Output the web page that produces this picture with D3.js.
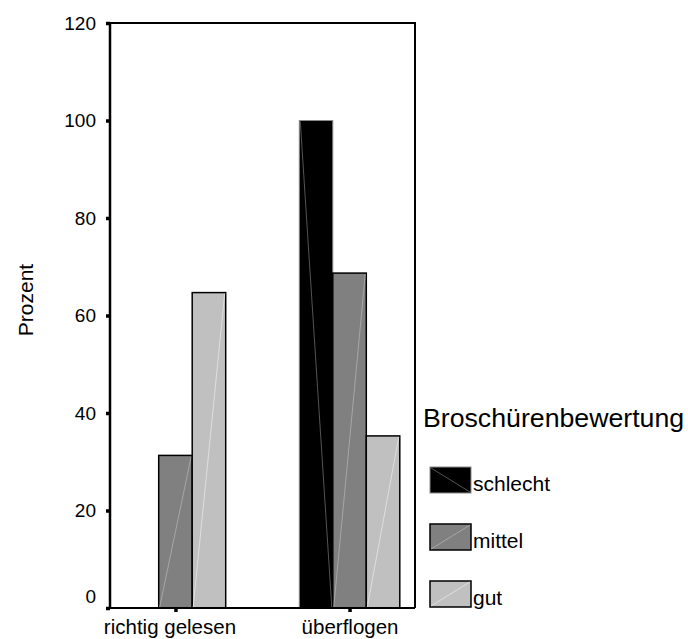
<!DOCTYPE html>
<html>
<head>
<meta charset="utf-8">
<script src="https://cdn.jsdelivr.net/npm/d3@7"></script>
<style>
  html, body { margin: 0; padding: 0; background: #fff; }
  svg { display: block; font-family: Arial, "Liberation Sans", sans-serif; }
</style>
</head>
<body>
<svg id="chart" width="688" height="639"></svg>
<script>
const categories = ["richtig gelesen", "überflogen"];
const series = ["schlecht", "mittel", "gut"];
const schlechtValues = [0, 100];
const mittelValues = [31.3, 68.7];
const gutValues = [64.7, 35.3];
const yTicks = [0, 20, 40, 60, 80, 100, 120];
const seriesValues = { schlecht: schlechtValues, mittel: mittelValues, gut: gutValues };

const colors = { schlecht: "#000000", mittel: "#808080", gut: "#c0c0c0" };
const strokes = { schlecht: "#8a8a8a", mittel: "#000000", gut: "#000000" };
const diag = { schlecht: "#6a6a6a", mittel: "#b0b0b0", gut: "#e6e6e6" };

const svg = d3.select("#chart");
const pLeft = 110, pRight = 415, pTop = 23, pBottom = 608;

const y = d3.scaleLinear().domain([0, 120]).range([pBottom, pTop]);
const x0 = d3.scalePoint().domain(categories).range([pLeft, pRight]).padding(0.376);
const groupW = 100.5;
const x1 = d3.scaleBand().domain(series).range([-groupW / 2, groupW / 2]).padding(0);

// frame (top and right)
svg.append("path")
  .attr("d", `M${pLeft},${pTop}H${pRight}V${pBottom}`)
  .attr("fill", "none").attr("stroke", "#000").attr("stroke-width", 2);

// bars
const data = [];
categories.forEach((c, i) => series.forEach(s => data.push({ c, s, v: seriesValues[s][i] })));
const bars = svg.append("g").selectAll("g").data(data.filter(d => d.v > 0)).join("g");
bars.append("rect")
  .attr("x", d => x0(d.c) + x1(d.s))
  .attr("y", d => y(d.v))
  .attr("width", x1.bandwidth())
  .attr("height", d => y(0) - y(d.v))
  .attr("fill", d => colors[d.s])
  .attr("stroke", d => strokes[d.s])
  .attr("stroke-width", d => d.s === "schlecht" ? 1 : 1.5);
bars.append("line")
  .attr("x1", d => x0(d.c) + x1(d.s) + 1)
  .attr("x2", d => x0(d.c) + x1(d.s) + x1.bandwidth() - 1)
  .attr("y1", d => d.s === "schlecht" ? y(d.v) + 1 : y(0) - 1)
  .attr("y2", d => d.s === "schlecht" ? y(0) - 1 : y(d.v) + 1)
  .attr("stroke", d => diag[d.s]).attr("stroke-width", 0.8);

// y axis
const yAxis = svg.append("g").attr("transform", `translate(${pLeft},0)`)
  .call(d3.axisLeft(y).tickValues(yTicks).tickSize(4).tickPadding(10).tickFormat(d3.format("d")));
yAxis.select(".domain").attr("stroke", "#000").attr("stroke-width", 2.5).attr("d", `M0,${pTop}V${pBottom + 1}`);
yAxis.selectAll(".tick line").attr("stroke", "#000").attr("stroke-width", 3.5);
yAxis.selectAll(".tick text").attr("font-size", 19).attr("fill", "#000")
  .attr("font-family", "Arial, 'Liberation Sans', sans-serif")
  .attr("dy", d => d === 0 ? "-0.3em" : "0.32em");

// x axis
const xAxis = svg.append("g").attr("transform", `translate(0,${pBottom})`)
  .call(d3.axisBottom(x0).tickSize(4).tickPadding(7));
xAxis.select(".domain").attr("stroke", "#000").attr("stroke-width", 2).attr("d", `M${pLeft},0H${pRight}`);
xAxis.selectAll(".tick line").attr("stroke", "#000").attr("stroke-width", 3.5);
xAxis.selectAll(".tick text").attr("font-size", 20.5).attr("fill", "#000")
  .attr("font-family", "Arial, 'Liberation Sans', sans-serif")
  .attr("dx", (d, i) => i === 0 ? -6 : 0);

// y axis title
svg.append("text")
  .attr("transform", "translate(33,300) rotate(-90)")
  .attr("text-anchor", "middle")
  .attr("font-size", 21)
  .text("Prozent");

// legend
svg.append("text").attr("x", 423).attr("y", 427).attr("font-size", 26.7).text("Broschürenbewertung");
const legY = d3.scalePoint().domain(series).range([467, 581]);
const lg = svg.append("g").selectAll("g").data(series).join("g")
  .attr("transform", d => `translate(430,${legY(d)})`);
lg.append("rect").attr("width", 41).attr("height", 26)
  .attr("fill", d => colors[d]).attr("stroke", d => strokes[d])
  .attr("stroke-width", d => d === "schlecht" ? 1 : 1.5);
lg.append("line")
  .attr("x1", 1).attr("x2", 40)
  .attr("y1", d => d === "schlecht" ? 1 : 25)
  .attr("y2", d => d === "schlecht" ? 25 : 1)
  .attr("stroke", d => diag[d]).attr("stroke-width", 0.8);
lg.append("text").attr("x", 43).attr("y", 24).attr("font-size", 21).text(d => d);
</script>
</body>
</html>
